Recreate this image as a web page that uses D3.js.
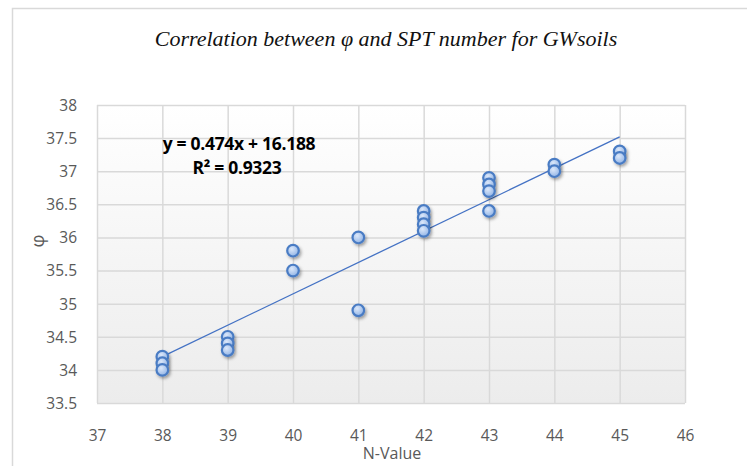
<!DOCTYPE html>
<html>
<head>
<meta charset="utf-8">
<script src="https://cdn.jsdelivr.net/npm/d3@7"></script>
<style>
  body { margin: 0; background: #fff; }
</style>
</head>
<body>
<div class="view"></div>
<script>
// data
const nValues = [38, 38, 38, 39, 39, 39, 40, 40, 41, 41, 42, 42, 42, 42, 43, 43, 43, 43, 44, 44, 45, 45]
const phiValues = [34.2, 34.1, 34.0, 34.5, 34.4, 34.3, 35.8, 35.5, 36.0, 34.9, 36.4, 36.3, 36.2, 36.1, 36.9, 36.8, 36.7, 36.4, 37.1, 37.0, 37.3, 37.2]
const xTicks = [37, 38, 39, 40, 41, 42, 43, 44, 45, 46]
const yTicks = [33.5, 34, 34.5, 35, 35.5, 36, 36.5, 37, 37.5, 38]
const slope = 0.474
const intercept = 16.188
const trendRange = [38, 45]

const dataset = nValues.map((n, i) => ({ n: n, phi: phiValues[i] }))

const w = 747
const h = 466
const plotLeft = 97, plotRight = 685, plotTop = 105, plotBottom = 403

const svg = d3.select('.view')
    .append('svg')
    .attr('width', w)
    .attr('height', h)

const defs = svg.append('defs')

// plot area background fades to light gray
const bg = defs.append('linearGradient')
    .attr('id', 'bg')
    .attr('x1', 0).attr('y1', 0).attr('x2', 0).attr('y2', 1)
bg.append('stop').attr('offset', '0%').attr('stop-color', '#ffffff')
bg.append('stop').attr('offset', '100%').attr('stop-color', '#ececec')

const dotFill = defs.append('radialGradient')
    .attr('id', 'dotFill')
    .attr('cx', '40%').attr('cy', '35%').attr('r', '65%')
dotFill.append('stop').attr('offset', '0%').attr('stop-color', '#dce8fa')
dotFill.append('stop').attr('offset', '100%').attr('stop-color', '#93b5e6')

const shadow = defs.append('filter')
    .attr('id', 'shadow')
    .attr('x', '-50%').attr('y', '-50%').attr('width', '200%').attr('height', '200%')
shadow.append('feDropShadow')
    .attr('dx', 1.5).attr('dy', 2)
    .attr('stdDeviation', 1.5)
    .attr('flood-color', '#000')
    .attr('flood-opacity', 0.35)

// chart frame
svg.append('rect')
    .attr('x', 12.5)
    .attr('y', 8.5)
    .attr('width', w)
    .attr('height', h)
    .attr('fill', 'none')
    .attr('stroke', '#d9d9d9')
    .attr('stroke-width', 1.5)

// 比例尺
const xScale = d3.scaleLinear()
    .domain([37, 46])
    .range([plotLeft, plotRight])

const yScale = d3.scaleLinear()
    .domain([33.5, 38])
    .range([plotBottom, plotTop])

svg.append('rect')
    .attr('x', plotLeft)
    .attr('y', plotTop)
    .attr('width', plotRight - plotLeft)
    .attr('height', plotBottom - plotTop)
    .attr('fill', 'url(#bg)')

// grid lines
const xAxis = d3.axisBottom(xScale).tickValues(xTicks).tickSize(-(plotBottom - plotTop)).tickFormat(d3.format('d'))
const yAxis = d3.axisLeft(yScale).tickValues(yTicks).tickSize(-(plotRight - plotLeft)).tickFormat(d => d)

svg.append('g')
    .attr('class', 'x-axis')
    .attr('transform', 'translate(0,' + plotBottom + ')')
    .call(xAxis)

svg.append('g')
    .attr('class', 'y-axis')
    .attr('transform', 'translate(' + plotLeft + ',0)')
    .call(yAxis)

svg.selectAll('.domain').remove()
svg.selectAll('.tick line')
    .attr('stroke', '#d9d9d9')
    .attr('stroke-width', 1.5)

svg.selectAll('.tick text')
    .attr('fill', '#595959')
    .attr('font-family', 'Open Sans, sans-serif')
    .attr('font-size', 15.5)

svg.select('.x-axis').selectAll('text').attr('dy', 0).attr('y', 38)
svg.select('.y-axis').selectAll('text').attr('x', -20).attr('dy', '0.35em')

// 趋势线
svg.append('line')
    .attr('x1', xScale(trendRange[0]))
    .attr('y1', yScale(slope * trendRange[0] + intercept))
    .attr('x2', xScale(trendRange[1]))
    .attr('y2', yScale(slope * trendRange[1] + intercept))
    .attr('stroke', '#4472c4')
    .attr('stroke-width', 1.3)

// 散点
svg.selectAll('circle.dot')
    .data(dataset)
    .enter()
    .append('circle')
    .attr('class', 'dot')
    .attr('cx', d => xScale(d.n))
    .attr('cy', d => yScale(d.phi))
    .attr('r', 5.8)
    .attr('fill', 'url(#dotFill)')
    .attr('stroke', '#4a7cc4')
    .attr('stroke-width', 2.2)
    .attr('filter', 'url(#shadow)')

// 标题
svg.append('text')
    .attr('x', 386)
    .attr('y', 46)
    .attr('text-anchor', 'middle')
    .attr('font-family', 'Liberation Serif, serif')
    .attr('font-style', 'italic')
    .attr('font-size', 22)
    .attr('fill', '#111')
    .text('Correlation between φ and SPT number for GWsoils')

// 公式
svg.append('text')
    .attr('x', 239)
    .attr('y', 150)
    .attr('text-anchor', 'middle')
    .attr('font-family', 'Open Sans, sans-serif')
    .attr('font-weight', 'bold')
    .attr('font-size', 17.5)
    .attr('letter-spacing', -0.3)
    .attr('fill', '#000')
    .text('y = ' + slope + 'x + ' + intercept)

svg.append('text')
    .attr('x', 237)
    .attr('y', 174)
    .attr('text-anchor', 'middle')
    .attr('font-family', 'Open Sans, sans-serif')
    .attr('font-weight', 'bold')
    .attr('font-size', 17.5)
    .attr('letter-spacing', -0.3)
    .attr('fill', '#000')
    .text('R² = 0.9323')

// axis titles
svg.append('text')
    .attr('transform', 'translate(44,241) rotate(-90)')
    .attr('text-anchor', 'middle')
    .attr('font-family', 'Open Sans, sans-serif')
    .attr('font-size', 18)
    .attr('fill', '#595959')
    .text('φ')

svg.append('text')
    .attr('x', 392)
    .attr('y', 459)
    .attr('text-anchor', 'middle')
    .attr('font-family', 'Open Sans, sans-serif')
    .attr('font-size', 16)
    .attr('fill', '#595959')
    .text('N-Value')
</script>
</body>
</html>
